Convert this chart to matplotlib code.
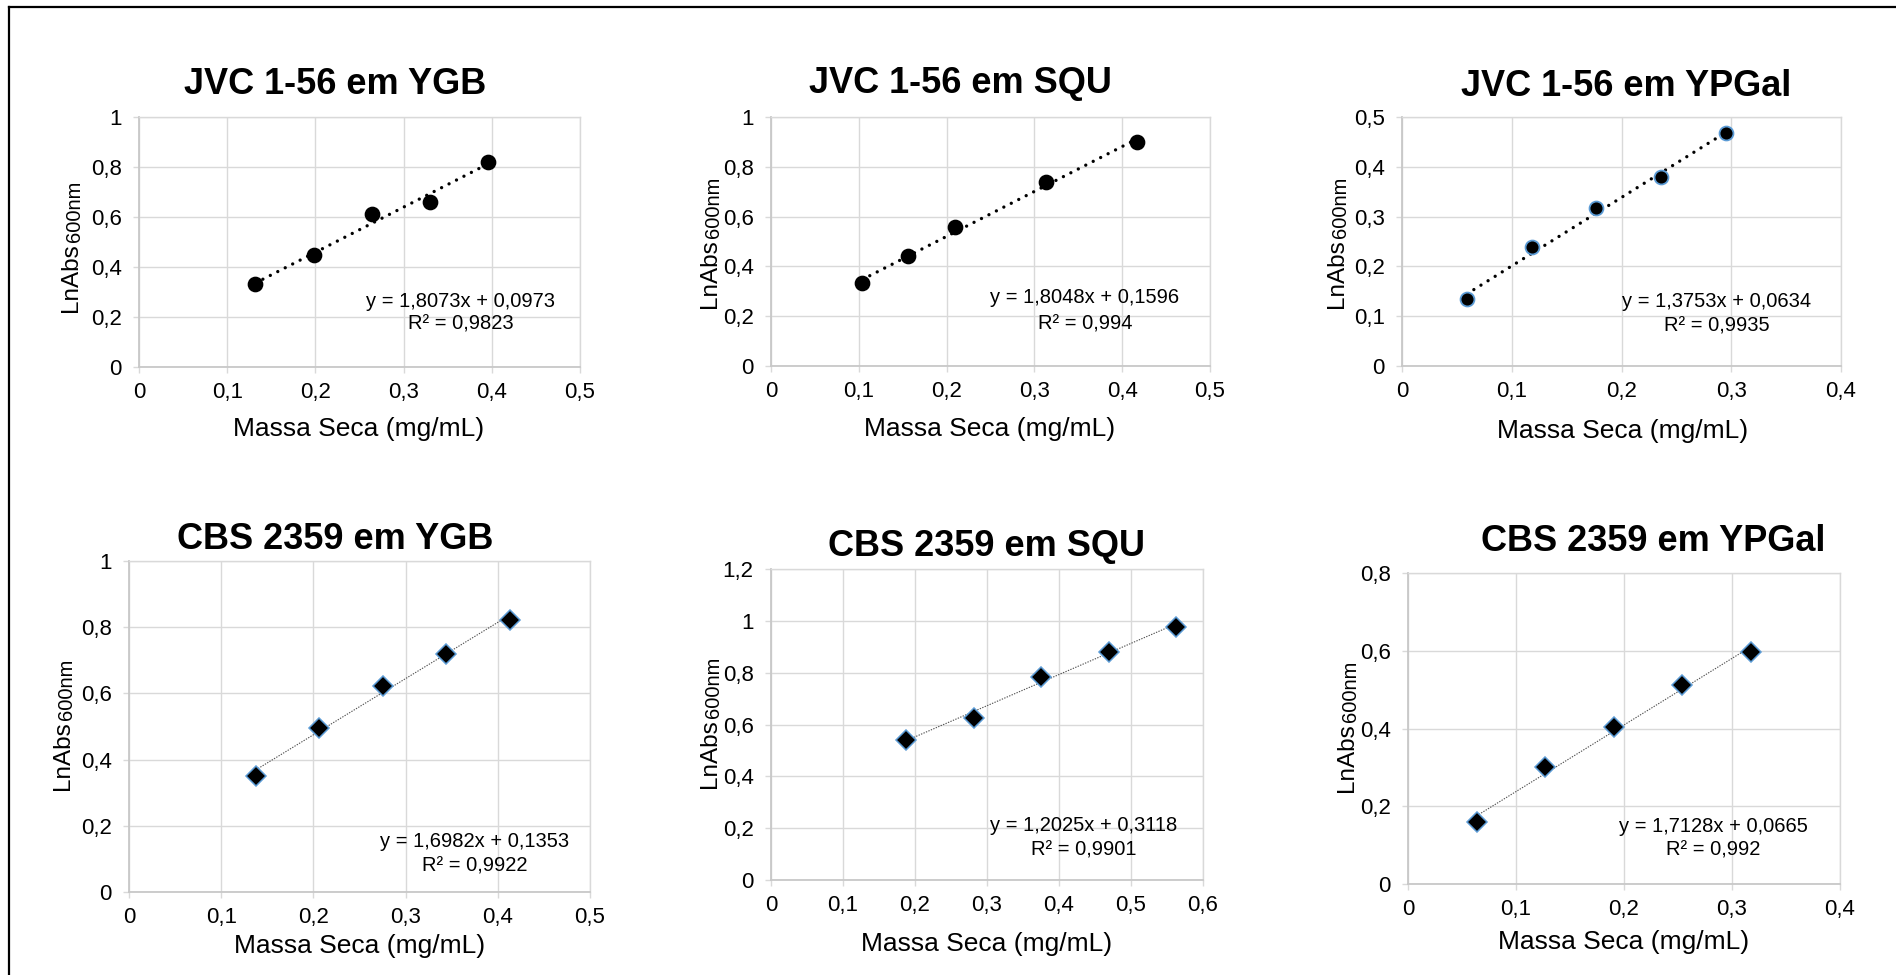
import numpy as np
import matplotlib
matplotlib.use("Agg")
import matplotlib.pyplot as plt

W, H = 1896, 975
plt.rcParams['font.family'] = ['Liberation Sans', 'DejaVu Sans']

# ---------------- data ----------------
titles = ["JVC 1-56 em YGB", "JVC 1-56 em SQU", "JVC 1-56 em YPGal",
          "CBS 2359 em YGB", "CBS 2359 em SQU", "CBS 2359 em YPGal"]

x_jvc_ygb = [0.132, 0.198, 0.264, 0.330, 0.396]
y_jvc_ygb = [0.334, 0.448, 0.611, 0.659, 0.820]
x_jvc_squ = [0.104, 0.156, 0.209, 0.313, 0.417]
y_jvc_squ = [0.332, 0.440, 0.560, 0.737, 0.898]
x_jvc_ypgal = [0.059, 0.118, 0.177, 0.236, 0.295]
y_jvc_ypgal = [0.134, 0.238, 0.317, 0.379, 0.468]
x_cbs_ygb = [0.1375, 0.206, 0.275, 0.344, 0.413]
y_cbs_ygb = [0.350, 0.496, 0.621, 0.719, 0.823]
x_cbs_squ = [0.188, 0.282, 0.375, 0.470, 0.563]
y_cbs_squ = [0.541, 0.627, 0.785, 0.881, 0.976]
x_cbs_ypgal = [0.0635, 0.127, 0.1906, 0.2537, 0.3176]
y_cbs_ypgal = [0.159, 0.300, 0.403, 0.512, 0.597]

slopes = [1.8073, 1.8048, 1.3753, 1.6982, 1.2025, 1.7128]
intercepts = [0.0973, 0.1596, 0.0634, 0.1353, 0.3118, 0.0665]
eq_texts = ["y = 1,8073x + 0,0973", "y = 1,8048x + 0,1596", "y = 1,3753x + 0,0634",
            "y = 1,6982x + 0,1353", "y = 1,2025x + 0,3118", "y = 1,7128x + 0,0665"]
r2_texts = ["R² = 0,9823", "R² = 0,994", "R² = 0,9935",
            "R² = 0,9922", "R² = 0,9901", "R² = 0,992"]

xticks_05 = [0, 0.1, 0.2, 0.3, 0.4, 0.5]
xlabels_05 = ["0", "0,1", "0,2", "0,3", "0,4", "0,5"]
xticks_04 = [0, 0.1, 0.2, 0.3, 0.4]
xlabels_04 = ["0", "0,1", "0,2", "0,3", "0,4"]
xticks_06 = [0, 0.1, 0.2, 0.3, 0.4, 0.5, 0.6]
xlabels_06 = ["0", "0,1", "0,2", "0,3", "0,4", "0,5", "0,6"]
yticks_1 = [0, 0.2, 0.4, 0.6, 0.8, 1.0]
ylabels_1 = ["0", "0,2", "0,4", "0,6", "0,8", "1"]
yticks_05 = [0, 0.1, 0.2, 0.3, 0.4, 0.5]
ylabels_05 = ["0", "0,1", "0,2", "0,3", "0,4", "0,5"]
yticks_12 = [0, 0.2, 0.4, 0.6, 0.8, 1.0, 1.2]
ylabels_12 = ["0", "0,2", "0,4", "0,6", "0,8", "1", "1,2"]
yticks_08 = [0, 0.2, 0.4, 0.6, 0.8]
ylabels_08 = ["0", "0,2", "0,4", "0,6", "0,8"]

xs_all = [x_jvc_ygb, x_jvc_squ, x_jvc_ypgal, x_cbs_ygb, x_cbs_squ, x_cbs_ypgal]
ys_all = [y_jvc_ygb, y_jvc_squ, y_jvc_ypgal, y_cbs_ygb, y_cbs_squ, y_cbs_ypgal]
xt_all = [(xticks_05, xlabels_05), (xticks_05, xlabels_05), (xticks_04, xlabels_04),
          (xticks_05, xlabels_05), (xticks_06, xlabels_06), (xticks_04, xlabels_04)]
yt_all = [(yticks_1, ylabels_1), (yticks_1, ylabels_1), (yticks_05, ylabels_05),
          (yticks_1, ylabels_1), (yticks_12, ylabels_12), (yticks_08, ylabels_08)]

# ---------------- layout (pixels, from top-left) ----------------
axes_px = [(139, 117, 580, 367), (771, 117, 1210, 366), (1402, 117, 1841, 366),
           (129, 561, 590, 892), (771, 569, 1203, 880), (1408, 573, 1840, 884)]
title_px = [(335, 94), (960, 93), (1626, 96), (335, 549), (987, 556), (1653, 551)]
xlab_px = [(359, 436), (990, 436), (1623, 438), (360, 953), (987, 951), (1624, 949)]
ylab_px = [(77, 312), (716, 308), (1343, 308), (69, 790), (716, 788), (1353, 792)]
eq_px = [(461, 307, 330), (1085, 303, 329), (1717, 307, 332),
         (475, 847, 871), (1084, 831, 855), (1713, 832, 855)]


def fx(x):
    return x / W


def fy(y):
    return 1 - y / H


fig = plt.figure(figsize=(W / 100, H / 100), dpi=100)
fig.patch.set_facecolor('white')

GRID = '#d9d9d9'
ylab_texts = []
for i in range(6):
    l, t, r, b = axes_px[i]
    ax = fig.add_axes([fx(l), fy(b), (r - l) / W, (b - t) / H])
    xt, xl = xt_all[i]
    yt, yl = yt_all[i]
    ax.set_xlim(xt[0], xt[-1])
    ax.set_ylim(yt[0], yt[-1])
    ax.set_xticks(xt)
    ax.set_xticklabels(xl)
    ax.set_yticks(yt)
    ax.set_yticklabels(yl)
    ax.grid(True, color=GRID, lw=1.0)
    ax.set_axisbelow(True)
    for s in ax.spines.values():
        s.set_color(GRID)
        s.set_linewidth(1.0)
    ax.spines['left'].set_color('#c8c8c8')
    ax.spines['bottom'].set_color('#c8c8c8')
    ax.spines['left'].set_linewidth(1.3)
    ax.spines['bottom'].set_linewidth(1.3)
    ax.tick_params(axis='x', length=4, width=1, color=GRID, pad=7, labelsize=16)
    ax.tick_params(axis='y', length=4.5, width=1, color=GRID, pad=8, labelsize=16)

    xs = np.array(xs_all[i])
    ys = np.array(ys_all[i])
    xfit = np.array([xs.min(), xs.max()])
    yfit = slopes[i] * xfit + intercepts[i]
    if i < 3:
        ax.plot(xfit, yfit, color='black', lw=2.4, linestyle=(0, (0.01, 2.5)),
                dash_capstyle='round', zorder=2)
        mec = '#5b9bd5' if i == 2 else 'black'
        ax.plot(xs, ys, 'o', ms=10, mfc='black', mec=mec, mew=1.3, zorder=3)
    else:
        ax.plot(xfit, yfit, color='#505050', lw=0.8, linestyle=(0, (1.2, 1.2)), zorder=2)
        ax.plot(xs, ys, 'D', ms=10.5, mfc='black', mec='#5b9bd5', mew=1.1, zorder=3)

    cx, cy = title_px[i]
    fig.text(fx(cx), fy(cy), titles[i], ha='center', va='baseline',
             fontsize=26, fontweight='bold')
    cx, cy = xlab_px[i]
    fig.text(fx(cx), fy(cy), "Massa Seca (mg/mL)", ha='center', va='baseline', fontsize=19)
    cx, y1, y2 = eq_px[i]
    fig.text(fx(cx), fy(y1), eq_texts[i], ha='center', va='baseline', fontsize=14.5)
    fig.text(fx(cx), fy(y2), r2_texts[i], ha='center', va='baseline', fontsize=14.5)
    bx, by = ylab_px[i]
    tt = fig.text(fx(bx), fy(by), "LnAbs", rotation=90, rotation_mode='anchor',
                  ha='left', va='baseline', fontsize=17.5)
    ylab_texts.append(tt)

fig.canvas.draw()
renderer = fig.canvas.get_renderer()
for i, tt in enumerate(ylab_texts):
    bb = tt.get_window_extent(renderer)
    bx, by = ylab_px[i]
    top_px = H - bb.y1  # pixel from top where LnAbs ends
    fig.text(fx(bx + 3), fy(top_px - 1), "600nm", rotation=90, rotation_mode='anchor',
             ha='left', va='baseline', fontsize=14.5)

# outer frame (top and left edges)
fig.add_artist(plt.Line2D([fx(9), fx(9)], [fy(7), 0], transform=fig.transFigure,
                          color='black', lw=1.6))
fig.add_artist(plt.Line2D([fx(9), 1], [fy(7), fy(7)], transform=fig.transFigure,
                          color='black', lw=1.6))

fig.savefig("out.png", dpi=100, facecolor='white')
